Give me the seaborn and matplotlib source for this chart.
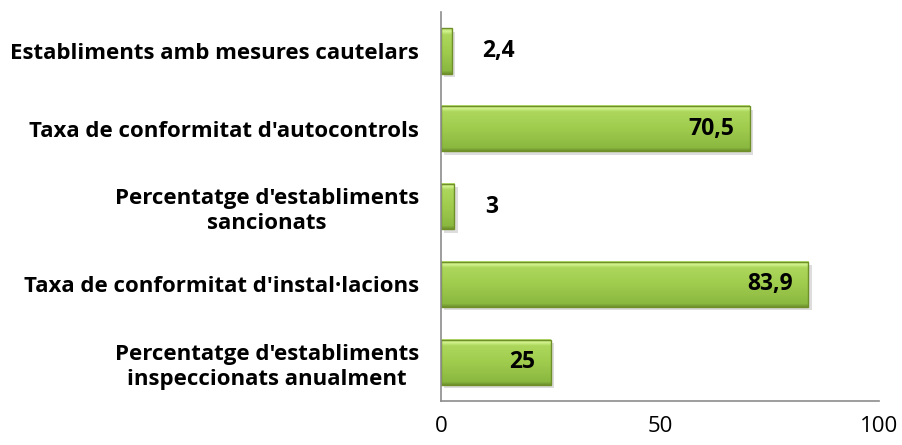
import numpy as np
import pandas as pd
import matplotlib
matplotlib.use("Agg")
import matplotlib.pyplot as plt
import matplotlib.patheffects as pe
from matplotlib.patches import Rectangle
import seaborn as sns

categories = [
    "Establiments amb mesures cautelars",
    "Taxa de conformitat d'autocontrols",
    "Percentatge d'establiments\nsancionats",
    "Taxa de conformitat d'instal·lacions",
    "Percentatge d'establiments\ninspeccionats anualment",
]
values = [2.4, 70.5, 3, 83.9, 25]
value_labels = ["2,4", "70,5", "3", "83,9", "25"]
x_ticks = [0, 50, 100]

sns.set_theme(style="white")
plt.rcParams["font.family"] = ["Open Sans", "DejaVu Sans"]
plt.rcParams["text.color"] = "black"
plt.rcParams["xtick.color"] = "black"
plt.rcParams["ytick.color"] = "black"

df = pd.DataFrame({"categoria": categories, "valor": values})

fig = plt.figure(figsize=(9.03, 4.45), dpi=100)
ax = fig.add_axes([0.4884, 0.0989, 0.485, 0.874])

sns.barplot(data=df, x="valor", y="categoria", orient="h", color="#9cc84c",
            width=0.58, ax=ax)

# green vertical gradient inside each bar (light rim on top, darker at the base)
grad = np.linspace(0, 1, 200).reshape(-1, 1)
cmap = matplotlib.colors.LinearSegmentedColormap.from_list(
    "verd", [(0.0, "#6e902e"), (0.07, "#8ab840"), (0.5, "#a0cc4e"),
             (0.86, "#acd75c"), (0.93, "#d2f28e"), (1.0, "#b8de70")])
for patch in ax.patches:
    x0, y0 = patch.get_x(), patch.get_y()
    w, h = patch.get_width(), patch.get_height()
    # the seaborn bar itself only carries the soft shadow
    patch.set_edgecolor("none")
    patch.set_path_effects([pe.SimplePatchShadow(offset=(2.5, -2.5), shadow_rgbFace="#7a7a7a",
                                                 alpha=0.25)])
    z = patch.get_zorder()
    # y axis is inverted: y0 is the top edge on screen
    ax.imshow(grad, cmap=cmap, aspect="auto", zorder=z + 0.1,
              extent=[x0, x0 + w, y0 + h, y0], origin="lower")
    ax.add_patch(Rectangle((x0, y0), w, h, fill=False, edgecolor="#6f8f28",
                           linewidth=1.0, zorder=z + 0.2))

for i, (v, lab) in enumerate(zip(values, value_labels)):
    if v > 10:
        ax.annotate(lab, xy=(v, i), xytext=(-11, 0), textcoords="offset points",
                    ha="right", va="center", fontsize=16.5, fontweight="bold", color="black")
    else:
        ax.annotate(lab, xy=(v, i), xytext=(22, 0), textcoords="offset points",
                    ha="left", va="center", fontsize=16.5, fontweight="bold", color="black")

ax.set_xlim(0, 100)
ax.set_ylim(4.5, -0.5)
ax.set_xticks(x_ticks)
ax.set_xticklabels([str(t) for t in x_ticks], fontsize=16)
ax.set_xlabel("")
ax.set_ylabel("")
ax.tick_params(axis="x", length=0, pad=11)
ax.tick_params(axis="y", length=0, pad=16)
for t in ax.get_yticklabels():
    t.set_fontsize(16)
    t.set_fontweight("bold")
    t.set_multialignment("center")
    t.set_linespacing(1.25)

for side in ["top", "right"]:
    ax.spines[side].set_visible(False)
for side in ["left", "bottom"]:
    ax.spines[side].set_color("#8c8c8c")
    ax.spines[side].set_linewidth(1.2)

fig.savefig("out.png", dpi=100)
